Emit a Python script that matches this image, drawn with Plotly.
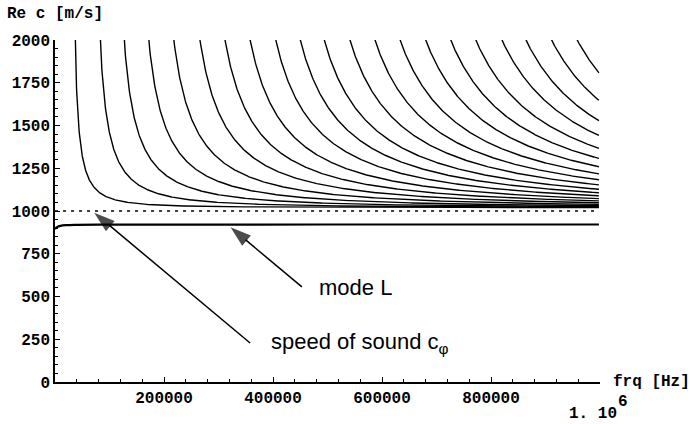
import numpy as np
import plotly.graph_objects as go

# ---- values ----
# frequency (Hz) where each higher mode crosses Re c = 2000 m/s
mode_f_at_2000 = [37000, 83000, 127000, 172000, 218000, 266000, 312000, 358000,
                  405000, 450000, 494000, 541000, 587000, 633000, 680000, 726000,
                  772000, 820000, 864000, 911000, 958000]
# high-frequency limit the higher modes approach (m/s)
mode_c_limit = 1020
# mode L (read points)
modeL_f = [0, 4000, 10000, 20000, 40000, 100000, 500000, 998000]
modeL_c = [895, 906, 913, 917, 919, 920, 921, 921]
# speed of sound (dotted)
sound_f = [0, 998000]
sound_c = [1000, 1000]
f_max = 998000

# arrows: (tail f, tail c) -> (tip f, tip c)
arrow_sound_f = [358000, 72000]
arrow_sound_c = [228, 990]
arrow_modeL_f = [453000, 322000]
arrow_modeL_c = [556, 905]

x_ticks = [200000, 400000, 600000, 800000]
x_ticktext = ["200000", "400000", "600000", "800000"]
y_ticks = [0, 250, 500, 750, 1000, 1250, 1500, 1750, 2000]

fig = go.Figure()

for f2 in mode_f_at_2000:
    fc = f2 * np.sqrt(1 - (mode_c_limit / 2000.0) ** 2)
    f = fc * np.geomspace(1.0, f_max / fc, 400)[1:]
    f = f[f >= f2 * 0.97]
    c = mode_c_limit / np.sqrt(1 - (fc / f) ** 2)
    fig.add_trace(go.Scatter(x=f, y=c, mode="lines",
                             line=dict(color="black", width=1.4),
                             hoverinfo="skip", showlegend=False))

fig.add_trace(go.Scatter(x=sound_f, y=sound_c, mode="lines",
                         line=dict(color="black", width=1.5, dash="3px,5px"),
                         showlegend=False))
fig.add_trace(go.Scatter(x=modeL_f, y=modeL_c, mode="lines", line_shape="spline",
                         line=dict(color="black", width=2.2), showlegend=False))

for af, ac in [(arrow_sound_f, arrow_sound_c), (arrow_modeL_f, arrow_modeL_c)]:
    fig.add_trace(go.Scatter(x=af, y=ac, mode="lines+markers",
                             line=dict(color="black", width=1.5),
                             marker=dict(symbol=["circle", "arrow"], size=[0, 22],
                                         color="black", angleref="previous",
                                         line=dict(width=0)),
                             hoverinfo="skip", showlegend=False))

mono = dict(family="Liberation Mono", size=16, color="black", weight="bold")
sans = dict(family="Liberation Sans", size=22, color="black")

fig.update_layout(
    width=692, height=424,
    margin=dict(l=55, r=92, t=40, b=42),
    paper_bgcolor="white", plot_bgcolor="white",
    xaxis=dict(range=[0, 1000000], tickvals=x_ticks, ticktext=x_ticktext,
               showgrid=False, zeroline=False, showline=True,
               linecolor="black", linewidth=1.5,
               ticks="inside", ticklen=5, tickwidth=1.2, tickcolor="black",
               minor=dict(dtick=40000, ticks="inside", ticklen=3,
                          tickcolor="black", tickwidth=1),
               tickfont=mono),
    yaxis=dict(range=[0, 2000], tickvals=y_ticks,
               showgrid=False, zeroline=False, showline=True,
               linecolor="black", linewidth=1.5,
               ticks="inside", ticklen=5, tickwidth=1.2, tickcolor="black",
               minor=dict(dtick=50, ticks="inside", ticklen=3,
                          tickcolor="black", tickwidth=1),
               tickfont=mono),
)

# axis labels (Mathematica style)
fig.add_annotation(xref="paper", yref="paper", x=-0.092, y=1.076, text="Re c [m/s]",
                   showarrow=False, xanchor="left", yanchor="middle", font=mono)
fig.add_annotation(xref="paper", yref="paper", x=1.02, y=0.0, text="frq [Hz]",
                   showarrow=False, xanchor="left", yanchor="middle", font=mono)
fig.add_annotation(xref="paper", yref="paper", x=0.94, y=-0.094, text="1. 10",
                   showarrow=False, xanchor="left", yanchor="middle", font=mono)
fig.add_annotation(xref="paper", yref="paper", x=1.03, y=-0.058, text="6",
                   showarrow=False, xanchor="left", yanchor="middle", font=mono)

fig.add_annotation(x=481000, y=550, text="mode L", showarrow=False,
                   xanchor="left", yanchor="middle", font=sans)
fig.add_annotation(x=393000, y=228, text="speed of sound c<sub>φ</sub>",
                   showarrow=False, xanchor="left", yanchor="middle", font=sans)

fig.write_html("out.html")
